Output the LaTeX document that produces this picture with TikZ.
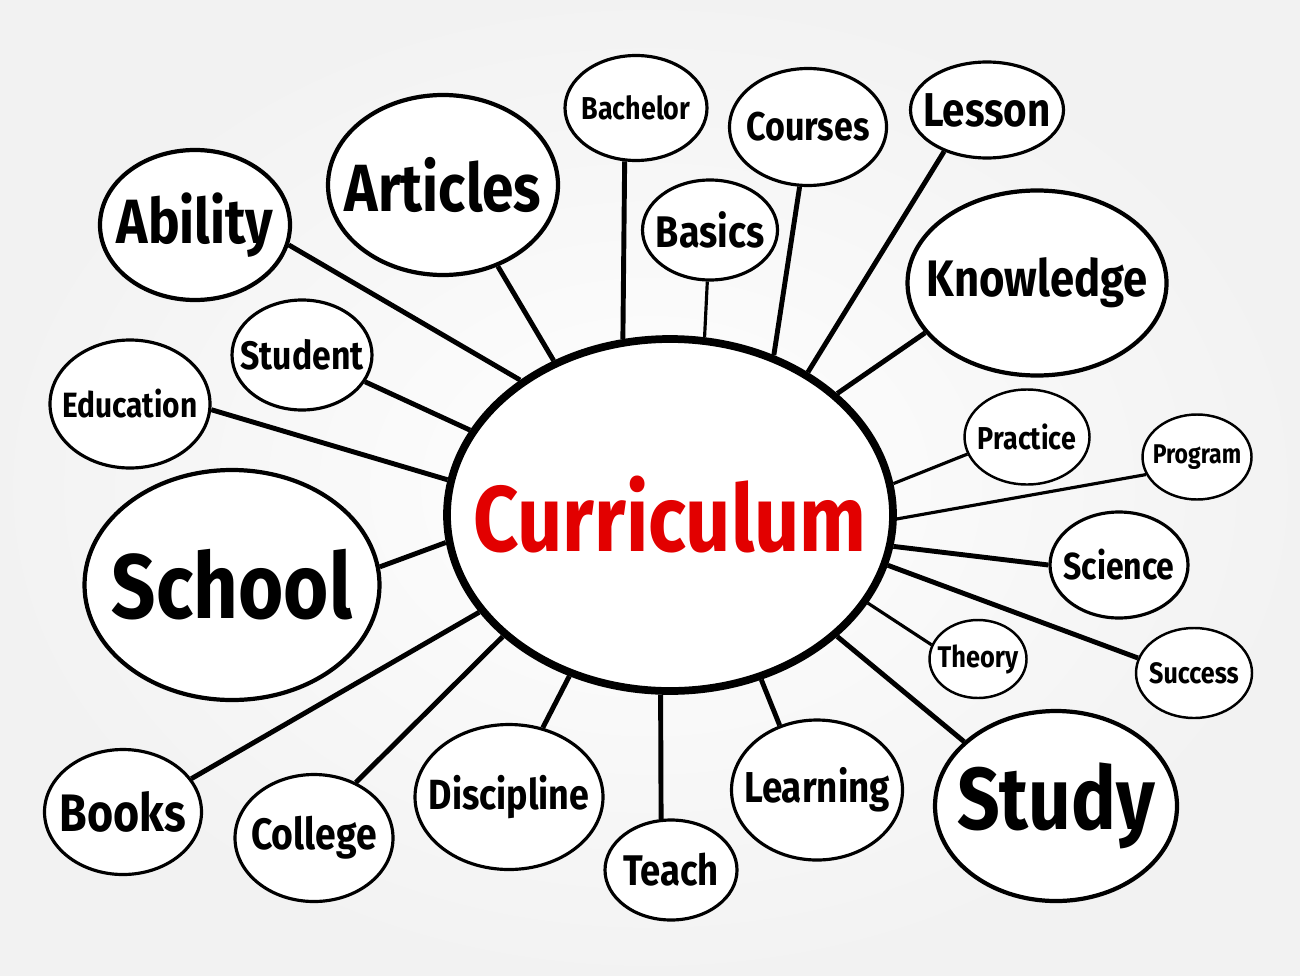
\documentclass[tikz,border=0pt]{standalone}
\usepackage{fontspec}
\setmainfont{Fira Sans}[FakeStretch=0.85]
\usepackage{tikz}
\usetikzlibrary{shapes.geometric}
\definecolor{markerred}{RGB}{226,0,0}
% word of a given size, kept out of the ellipse's size
\newcommand{\word}[2]{\fontsize{#1}{#1}\selectfont\bfseries\makebox[0pt]{#2}}

\begin{document}
\begin{tikzpicture}[thick,
  leaf/.style={ellipse,draw,fill=white,inner sep=0pt,line width=0.9pt},
  big leaf/.style={leaf,line width=1.2pt},
  small leaf/.style={leaf,line width=0.7pt},
  hub/.style={ellipse,draw,fill=white,inner sep=0pt,line width=2.2pt,text=markerred},
  link/.style={line width=1.4pt},
  thin link/.style={line width=0.9pt}]

  % background
  \shade[inner color=white,outer color=gray!10] (0,0) rectangle (13,9.75);
  \useasboundingbox (0,0) rectangle (13,9.75);

  % centre
  \node[hub,minimum width=4.46cm,minimum height=3.52cm] (cur) at (6.70,4.60) {\word{26.5}{Curriculum}};

  % top and left
  \node[big leaf,minimum width=1.90cm,minimum height=1.50cm] (ability) at (1.95,7.50) {\word{17.8}{Ability}};
  \node[big leaf,minimum width=2.30cm,minimum height=1.80cm] (articles) at (4.43,7.90) {\word{19}{Articles}};
  \node[leaf,minimum width=1.42cm,minimum height=1.05cm] (bachelor) at (6.36,8.67) {\word{9}{Bachelor}};
  \node[leaf,minimum width=1.35cm,minimum height=1.00cm] (basics) at (7.10,7.45) {\word{12.6}{Basics}};
  \node[leaf,minimum width=1.57cm,minimum height=1.17cm] (courses) at (8.08,8.48) {\word{11.4}{Courses}};
  \node[leaf,minimum width=1.53cm,minimum height=0.96cm] (lesson) at (9.87,8.65) {\word{13.5}{Lesson}};
  \node[big leaf,minimum width=2.59cm,minimum height=1.85cm] (knowledge) at (10.37,6.92) {\word{14.6}{Knowledge}};
  \node[leaf,minimum width=1.40cm,minimum height=1.10cm] (student) at (3.02,6.20) {\word{11.3}{Student}};
  \node[leaf,minimum width=1.60cm,minimum height=1.28cm] (education) at (1.30,5.71) {\word{10}{Education}};
  \node[big leaf,minimum width=2.95cm,minimum height=2.30cm] (school) at (2.32,3.90) {\word{26}{School}};

  % right
  \node[small leaf,minimum width=1.25cm,minimum height=0.95cm] (practice) at (10.27,5.38) {\word{9}{Practice}};
  \node[small leaf,minimum width=1.09cm,minimum height=0.85cm] (program) at (11.97,5.18) {\word{7.7}{Program}};
  \node[leaf,minimum width=1.38cm,minimum height=1.06cm] (science) at (11.19,4.10) {\word{10.7}{Science}};
  \node[small leaf,minimum width=0.97cm,minimum height=0.78cm] (theory) at (9.78,3.16) {\word{8.5}{Theory}};
  \node[small leaf,minimum width=1.16cm,minimum height=0.90cm] (success) at (11.94,3.02) {\word{8.4}{Success}};

  % bottom
  \node[leaf,minimum width=1.57cm,minimum height=1.25cm] (books) at (1.23,1.63) {\word{15}{Books}};
  \node[leaf,minimum width=1.58cm,minimum height=1.27cm] (college) at (3.14,1.37) {\word{12.5}{College}};
  \node[leaf,minimum width=1.88cm,minimum height=1.45cm] (discipline) at (5.09,1.78) {\word{12}{Discipline}};
  \node[leaf,minimum width=1.32cm,minimum height=1.00cm] (teach) at (6.71,1.05) {\word{12.2}{Teach}};
  \node[leaf,minimum width=1.71cm,minimum height=1.40cm] (learning) at (8.17,1.85) {\word{12.3}{Learning}};
  \node[big leaf,minimum width=2.42cm,minimum height=1.90cm] (study) at (10.56,1.69) {\word{25}{Study}};

  \path[link]
    (ability.-12) edge (cur.138.5)
    (articles.-56) edge (cur.127.3)
    (bachelor.-102) edge (cur.105)
    (courses.-98) edge (cur.57.6)
    (lesson.-136) edge (cur.46)
    (knowledge.-156) edge (cur.36.6)
    (student.-23) edge (cur.157)
    (education.-4) edge (cur.171.7)
    (school.7) edge (cur.187.7)
    (science.180) edge (cur.-8.2)
    (success.165) edge (cur.-13.8)
    (books.26) edge (cur.207.6)
    (college.53) edge (cur.216.5)
    (discipline.64) edge (cur.-122.9)
    (teach.101) edge (cur.-93.8)
    (learning.120) edge (cur.-61.8)
    (study.145) edge (cur.-36.6);

  \path[thin link]
    (basics.-93) edge (cur.79)
    (practice.-164) edge (cur.8.8)
    (program.-161) edge (cur.-1.8)
    (theory.163) edge (cur.-24.2);

\end{tikzpicture}
\end{document}
